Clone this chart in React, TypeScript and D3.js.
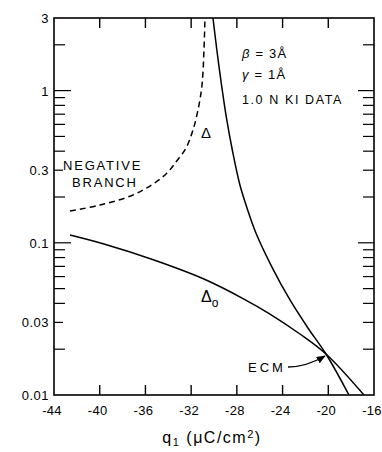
import React from "react";
import * as d3 from "d3";

const xTicks = [-44, -40, -36, -32, -28, -24, -20, -16];
const yTickLabels = [3, 1, 0.3, 0.1, 0.03, 0.01];
const yMinor = [2, 0.9, 0.8, 0.7, 0.6, 0.5, 0.4, 0.2, 0.09, 0.08, 0.07, 0.06, 0.05, 0.04, 0.02];
const yDecade = [1, 0.1];

// Δ (steep solid curve)
const deltaQ = [-30.09, -29.74, -29.34, -28.91, -28.38, -27.73, -27.11, -26.33, -24.93, -23.35, -21.78, -20.2, -18.19];
const deltaV = [3, 1.82, 1.088, 0.661, 0.401, 0.2397, 0.1693, 0.116, 0.0693, 0.0421, 0.02756, 0.01859, 0.01];

// Δ0 (shallow solid curve)
const delta0Q = [-42.6, -39.63, -35.25, -30.88, -27.38, -25.1, -22.48, -20.2, -16.88];
const delta0V = [0.1125, 0.0982, 0.0771, 0.0578, 0.0427, 0.03405, 0.02517, 0.01859, 0.01];

// negative branch (dashed)
const negQ = [-42.6, -39.98, -37.09, -35.34, -34.11, -33.33, -32.45, -31.84, -31.4, -31.05, -30.88, -30.79];
const negV = [0.1618, 0.177, 0.2061, 0.2435, 0.2875, 0.3396, 0.4197, 0.551, 0.746, 1.088, 1.82, 3];

const W = 382;
const H = 452;
const left = 54, right = 374, top = 18, bottom = 395;

export default function App() {
  const x = d3.scaleLinear().domain([-44, -16]).range([left, right]);
  const y = d3.scaleLog().domain([0.01, 3]).range([bottom, top]);
  const line = d3
    .line<[number, number]>()
    .x((d) => x(d[0]))
    .y((d) => y(d[1]))
    .curve(d3.curveCatmullRom.alpha(0.5));
  const zip = (a: number[], b: number[]) => a.map((v, i) => [v, b[i]] as [number, number]);
  const font = "'Liberation Sans', Arial, sans-serif";

  const ecmX = x(-20.2);
  const ecmY = y(0.0186);

  return (
    <svg
      width={W}
      height={H}
      style={{ position: "absolute", left: 0, top: 0, background: "#fff" }}
      fontFamily={font}
    >
      <defs>
        <marker id="arr" viewBox="0 0 10 10" refX="9" refY="5" markerWidth="7" markerHeight="7" orient="auto">
          <path d="M0,1 L10,5 L0,9 Z" fill="#000" />
        </marker>
        <clipPath id="clip">
          <rect x={left} y={top} width={right - left} height={bottom - top} />
        </clipPath>
      </defs>
      {/* frame */}
      <rect x={left} y={top} width={right - left} height={bottom - top} fill="none" stroke="#000" strokeWidth={1.6} />
      {/* x ticks top & bottom */}
      {xTicks.slice(1, -1).map((t) => (
        <g key={"xt" + t}>
          <line x1={x(t)} x2={x(t)} y1={top} y2={top + 10} stroke="#000" strokeWidth={1.4} />
          <line x1={x(t)} x2={x(t)} y1={bottom} y2={bottom - 10} stroke="#000" strokeWidth={1.4} />
        </g>
      ))}
      {xTicks.map((t) => (
        <text key={"xl" + t} x={x(t) - 2} y={415} textAnchor="middle" fontSize={13} letterSpacing={0.3}>
          {t < 0 ? "-" + Math.abs(t) : t}
        </text>
      ))}
      {/* y ticks */}
      {yMinor.map((t) => (
        <g key={"ym" + t}>
          <line x1={left} x2={left + 11} y1={y(t)} y2={y(t)} stroke="#000" strokeWidth={1.2} />
          <line x1={right} x2={right - 11} y1={y(t)} y2={y(t)} stroke="#000" strokeWidth={1.2} />
        </g>
      ))}
      {yDecade.map((t) => (
        <g key={"yd" + t}>
          <line x1={left} x2={left + 17} y1={y(t)} y2={y(t)} stroke="#000" strokeWidth={1.2} />
          <line x1={right} x2={right - 16} y1={y(t)} y2={y(t)} stroke="#000" strokeWidth={1.2} />
        </g>
      ))}
      {[0.3, 0.03].map((t) => (
        <g key={"yh" + t}>
          <line x1={left} x2={left + 9} y1={y(t)} y2={y(t)} stroke="#000" strokeWidth={1.2} />
          <line x1={right} x2={right - 11} y1={y(t)} y2={y(t)} stroke="#000" strokeWidth={1.2} />
        </g>
      ))}
      {yTickLabels.map((t) => (
        <text key={"yl" + t} x={49} y={y(t) + 5} textAnchor="end" fontSize={13} letterSpacing={0.5}>
          {String(t)}
        </text>
      ))}
      {/* curves */}
      <g clipPath="url(#clip)" fill="none" stroke="#000" strokeWidth={1.5}>
        <path d={line(zip(deltaQ, deltaV)) || ""} />
        <path d={line(zip(delta0Q, delta0V)) || ""} />
        <path d={line(zip(negQ, negV)) || ""} strokeDasharray="6,4" />
      </g>
      {/* labels */}
      <text x={242} y={58} fontSize={13} letterSpacing={1.2}>
        <tspan fontStyle="italic">β</tspan> = 3Å
      </text>
      <text x={242} y={79} fontSize={13} letterSpacing={1.2}>
        <tspan fontStyle="italic">γ</tspan> = 1Å
      </text>
      <text x={242} y={104} fontSize={12.5} letterSpacing={1.6}>
        1.0 N KI DATA
      </text>
      <text x={63} y={170} fontSize={13} letterSpacing={1.8}>
        NEGATIVE
      </text>
      <text x={72} y={187} fontSize={13} letterSpacing={1.8}>
        BRANCH
      </text>
      <text x={201} y={138} fontSize={15}>Δ</text>
      <text x={201} y={302} fontSize={16}>
        Δ<tspan fontSize={12} dy={5}>o</tspan>
      </text>
      <text x={248} y={372} fontSize={13} letterSpacing={3}>
        ECM
      </text>
      <path
        d={`M${ecmX - 38},${ecmY + 13} Q${ecmX - 20},${ecmY + 13} ${ecmX - 1},${ecmY + 2}`}
        fill="none"
        stroke="#000"
        strokeWidth={1.3}
        markerEnd="url(#arr)"
      />
      {/* axis title */}
      <text x={212} y={443} textAnchor="middle" fontSize={16} letterSpacing={1.5}>
        q<tspan fontSize={11} dy={3}>1</tspan>
        <tspan dy={-3}> (μC/cm</tspan>
        <tspan fontSize={11} dy={-5}>2</tspan>
        <tspan dy={5}>)</tspan>
      </text>
    </svg>
  );
}
